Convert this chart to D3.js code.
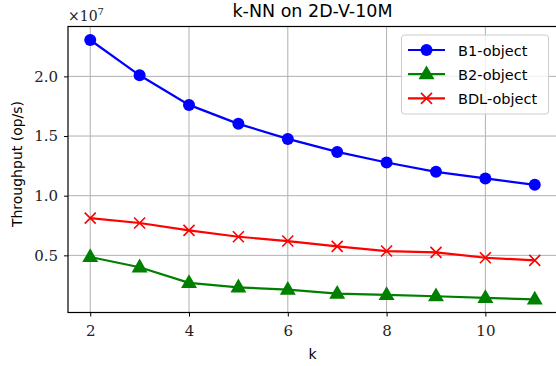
<!DOCTYPE html>
<html>
<head>
<meta charset="utf-8">
<script src="https://cdn.jsdelivr.net/npm/d3@7"></script>
<style>
  body { margin: 0; background: #fff; }
  .tick text { font-family: 'DejaVu Serif', serif; font-size: 15px; fill: #222; }
</style>
</head>
<body>
<div id="chart"></div>
<script>
// data (throughput in units of 1e7 op/s)
var ks = [2, 3, 4, 5, 6, 7, 8, 9, 10, 11]
var b1_object = [2.305, 2.009, 1.761, 1.602, 1.476, 1.367, 1.278, 1.200, 1.145, 1.091]
var b2_object = [0.486, 0.400, 0.269, 0.232, 0.213, 0.179, 0.168, 0.157, 0.143, 0.131]
var bdl_object = [0.8125, 0.771, 0.709, 0.656, 0.620, 0.575, 0.536, 0.525, 0.480, 0.458]
var x_ticks = [2, 4, 6, 8, 10]
var y_ticks = [0.5, 1.0, 1.5, 2.0]

var series = [
  { name: 'B1-object', values: b1_object, color: '#0000ff', marker: 'circle' },
  { name: 'B2-object', values: b2_object, color: '#008000', marker: 'triangle' },
  { name: 'BDL-object', values: bdl_object, color: '#ff0000', marker: 'x' }
]

var width = 556, height = 366
var margin = { top: 26.5, bottom: 53.5, left: 68, right: -1 }
var w = width - margin.left - margin.right
var h = height - margin.top - margin.bottom

var svg = d3.select('#chart').append('svg')
  .attr('width', width)
  .attr('height', height)

var g = svg.append('g')
  .attr('transform', 'translate(' + margin.left + ',' + margin.top + ')')

var x = d3.scaleLinear().domain([1.55, 11.45]).range([0, w])
var y = d3.scaleLinear().domain([0.021, 2.418]).range([h, 0])

// grid
g.selectAll('.xgrid').data(x_ticks).enter().append('line')
  .attr('x1', d => x(d)).attr('x2', d => x(d))
  .attr('y1', 0).attr('y2', h)
  .attr('stroke', '#b0b0b0').attr('stroke-width', 1)
g.selectAll('.ygrid').data(y_ticks).enter().append('line')
  .attr('x1', 0).attr('x2', w)
  .attr('y1', d => y(d)).attr('y2', d => y(d))
  .attr('stroke', '#b0b0b0').attr('stroke-width', 1)

// axes
var xAxis = g.append('g')
  .attr('transform', 'translate(0,' + h + ')')
  .call(d3.axisBottom(x).tickValues(x_ticks).tickSize(4).tickPadding(9).tickFormat(d3.format('d')))
var yAxis = g.append('g')
  .call(d3.axisLeft(y).tickValues(y_ticks).tickSize(4).tickPadding(6).tickFormat(d3.format('.1f')))
;[xAxis, yAxis].forEach(a => {
  a.select('.domain').remove()
  a.selectAll('.tick line').attr('stroke', '#000').attr('stroke-width', 1)
})

// spines
g.append('rect')
  .attr('x', 0).attr('y', 0).attr('width', w).attr('height', h)
  .attr('fill', 'none').attr('stroke', '#000').attr('stroke-width', 1.2)

// lines and markers
var line = d3.line().x((d, i) => x(ks[i])).y(d => y(d))

function drawMarker(sel, type, color, cx, cy) {
  if (type === 'circle') {
    sel.append('circle').attr('cx', cx).attr('cy', cy).attr('r', 6).attr('fill', color)
  } else if (type === 'triangle') {
    sel.append('path')
      .attr('d', d3.symbol().type(d3.symbolTriangle).size(110))
      .attr('transform', 'translate(' + cx + ',' + (cy + 0.5) + ')')
      .attr('fill', color)
  } else {
    var s = 5.5
    sel.append('path')
      .attr('d', 'M' + (cx - s) + ',' + (cy - s) + 'L' + (cx + s) + ',' + (cy + s) +
        'M' + (cx - s) + ',' + (cy + s) + 'L' + (cx + s) + ',' + (cy - s))
      .attr('stroke', color).attr('stroke-width', 1.6).attr('fill', 'none')
  }
}

series.forEach(s => {
  g.append('path')
    .datum(s.values)
    .attr('d', line)
    .attr('fill', 'none')
    .attr('stroke', s.color)
    .attr('stroke-width', 2.2)
  var mg = g.append('g')
  s.values.forEach((v, i) => drawMarker(mg, s.marker, s.color, x(ks[i]), y(v)))
})

// title and labels
svg.append('text')
  .attr('x', margin.left + w / 2).attr('y', 17)
  .attr('text-anchor', 'middle')
  .attr('font-family', 'DejaVu Sans, sans-serif').attr('font-size', '17.5px')
  .text('k-NN on 2D-V-10M')

var mult = svg.append('text')
  .attr('x', 68).attr('y', 21)
  .attr('font-family', 'DejaVu Serif, serif').attr('font-size', '14px')
  .attr('fill', '#222')
mult.append('tspan').text('\u00d710')
mult.append('tspan').attr('dy', -6).attr('font-size', '10px').text('7')

svg.append('text')
  .attr('x', margin.left + w / 2).attr('y', 359)
  .attr('text-anchor', 'middle')
  .attr('font-family', 'DejaVu Sans, sans-serif').attr('font-size', '14px')
  .text('k')

svg.append('text')
  .attr('transform', 'translate(22,164) rotate(-90)')
  .attr('text-anchor', 'middle')
  .attr('font-family', 'DejaVu Sans, sans-serif').attr('font-size', '14px')
  .text('Throughput (op/s)')

// legend
var legend = svg.append('g')
legend.append('rect')
  .attr('x', 401.5).attr('y', 35).attr('width', 147).attr('height', 79)
  .attr('rx', 3)
  .attr('fill', 'rgba(255,255,255,0.8)')
  .attr('stroke', '#cccccc').attr('stroke-width', 1)
series.forEach((s, i) => {
  var ly = 50 + i * 24.2
  legend.append('line')
    .attr('x1', 408).attr('x2', 445).attr('y1', ly).attr('y2', ly)
    .attr('stroke', s.color).attr('stroke-width', 2.2)
  drawMarker(legend, s.marker, s.color, 426.5, ly)
  legend.append('text')
    .attr('x', 458).attr('y', ly + 5.5)
    .attr('font-family', 'DejaVu Sans, sans-serif').attr('font-size', '14.5px')
    .text(s.name)
})
</script>
</body>
</html>
